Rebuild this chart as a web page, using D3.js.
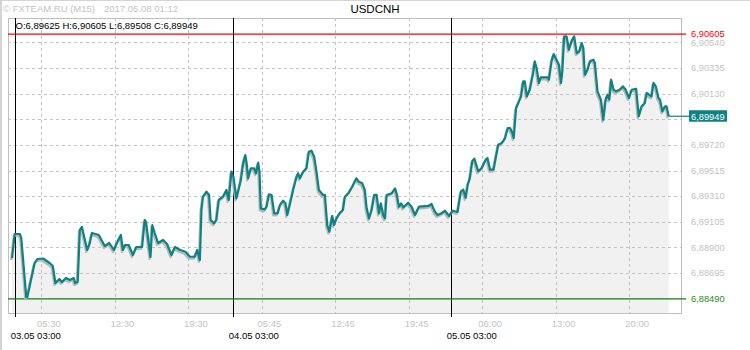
<!DOCTYPE html>
<html lang="en">
<head>
  <meta charset="utf-8">
  <title>USDCNH M15</title>
  <script src="https://d3js.org/d3.v7.min.js"></script>
  <style>
    body { margin: 0; background: #fff; }
    svg { display: block; font-family: "Liberation Sans", Arial, sans-serif; }
  </style>
</head>
<body>
  <script>
    // Chart data
    const symbol = "USDCNH";
    const ohlc = { O: "6,89625", H: "6,90605", L: "6,89508", C: "6,89949" };
    const highPrice = 6.90605;
    const lowPrice = 6.88490;
    const lastPrice = 6.89949;

    // bar index (M15 bars, 0 = 03.05 03:00) and close price at line vertices
    const bars = [-1, 0, 2, 2.5, 4.4, 4.8, 7.6, 8.6, 10.8, 13.3, 14.5, 15.5, 17, 18, 19.5, 21, 22.5, 23, 24, 24.8,
      25.6, 27.6, 28.5, 29.4, 32, 34.3, 36, 37.8, 38.7, 40.4, 41.2, 42, 43.4, 45, 46.3, 48.5, 49.5, 50, 51.7, 52.4,
      53.3, 54.6, 56.5, 58, 59.7, 61, 63, 65, 66.7, 68.5, 69.5, 70.5, 71.1, 71.7, 73, 74, 74.6, 75.9, 76.8, 77.7,
      79.3, 80.6, 81.5, 82.5, 83.3, 84.4, 85.2, 86.1, 87, 87.8, 88.4, 88.9, 89.9, 91.2, 91.9, 92.7, 93.2, 93.7, 95.2, 95.9,
      96.8, 97.8, 98.8, 100.1, 101, 102.2, 103.1, 103.8, 104.7, 106, 107.3, 107.9, 108.6, 109.8, 111.1, 112, 113, 114, 114.9, 115.8,
      117.4, 118.1, 119, 119.8, 120.9, 121.6, 122.5, 123.8, 125, 125.7, 127, 128.5, 130.1, 131, 132.3, 133.3, 134, 134.9, 135.9, 136.9,
      137.8, 138.7, 139.4, 140.3, 141, 141.6, 143.5, 144.8, 145.4, 146.3, 147.1, 148, 149.8, 151.1, 152.4, 153.9, 157.5, 158.7, 160, 161,
      162.5, 163.8, 164.8, 165.4, 166.7, 168.6, 169.9, 170.8, 171.7, 172.5, 173.3, 174.2, 175, 176.5, 177.8, 179.3, 180, 181, 182.3, 183.5,
      184.1, 185.4, 186.7, 187.7, 188.6, 189.5, 190, 190.9, 191.7, 192.8, 193.6, 194.2, 195, 196.1, 197.4, 198, 198.7, 199.6, 200.3, 202.9,
      203.4, 204.4, 205.2, 206.3, 207.2, 208, 208.5, 209.2, 210.1, 211, 212, 213, 214, 215, 215.9, 216.5, 217.1, 218.1, 219, 220.3,
      220.9, 221.9, 223.2, 224.1, 225, 225.7, 226.4, 227.1, 228, 229, 230.3, 231.6, 232.6, 233.9, 234.9, 236.6, 237.6, 238.7, 239.9, 240.6,
      241.5, 242.5, 243.2, 244.1, 245.1, 245.7, 246.6, 247.6, 248.2, 249];
    const closes = [6.88816, 6.89008, 6.89008, 6.88976, 6.88504, 6.88504, 6.88776, 6.88808, 6.88812, 6.88776, 6.88752, 6.88616, 6.88648, 6.88624, 6.88656, 6.88640, 6.88656, 6.88616, 6.88624, 6.89040,
      6.89064, 6.88880, 6.88928, 6.89016, 6.89000, 6.88912, 6.88936, 6.88880, 6.88928, 6.89000, 6.88880, 6.88920, 6.88920, 6.88840, 6.88904, 6.88904, 6.89120, 6.89104, 6.88824, 6.89080,
      6.89016, 6.88936, 6.88960, 6.88928, 6.88840, 6.88904, 6.88880, 6.88866, 6.88826, 6.88826, 6.88880, 6.88800, 6.89200, 6.89306, 6.89346, 6.89320, 6.89120, 6.89093, 6.89120, 6.89280,
      6.89306, 6.89360, 6.89280, 6.89506, 6.89463, 6.89293, 6.89360, 6.89439, 6.89573, 6.89639, 6.89559, 6.89453, 6.89533, 6.89533, 6.89493, 6.89578, 6.89506, 6.89213, 6.89205, 6.89226,
      6.89325, 6.89320, 6.89173, 6.89173, 6.89240, 6.89274, 6.89253, 6.89160, 6.89240, 6.89360, 6.89466, 6.89493, 6.89453, 6.89506, 6.89533, 6.89666, 6.89674, 6.89626, 6.89506, 6.89360,
      6.89320, 6.89320, 6.89080, 6.89026, 6.89152, 6.89080, 6.89133, 6.89178, 6.89200, 6.89306, 6.89333, 6.89386, 6.89453, 6.89426, 6.89413, 6.89360, 6.89213, 6.89133, 6.89200, 6.89320,
      6.89320, 6.89173, 6.89253, 6.89160, 6.89133, 6.89320, 6.89333, 6.89373, 6.89333, 6.89226, 6.89253, 6.89221, 6.89258, 6.89226, 6.89160, 6.89226, 6.89232, 6.89248, 6.89186, 6.89160,
      6.89173, 6.89194, 6.89168, 6.89152, 6.89194, 6.89184, 6.89349, 6.89362, 6.89296, 6.89402, 6.89455, 6.89589, 6.89610, 6.89509, 6.89535, 6.89602, 6.89615, 6.89522, 6.89522, 6.89655,
      6.89722, 6.89735, 6.89775, 6.89855, 6.89855, 6.89815, 6.89775, 6.90015, 6.90055, 6.90108, 6.90228, 6.90228, 6.90108, 6.90161, 6.90295, 6.90388, 6.90335, 6.90215, 6.90260, 6.90260,
      6.90241, 6.90388, 6.90446, 6.90401, 6.90361, 6.90215, 6.90308, 6.90588, 6.90588, 6.90481, 6.90548, 6.90588, 6.90454, 6.90468, 6.90534, 6.90494, 6.90281, 6.90321, 6.90388, 6.90401,
      6.90374, 6.90148, 6.90081, 6.89921, 6.90081, 6.90121, 6.90081, 6.90241, 6.90161, 6.90148, 6.90161, 6.90188, 6.90161, 6.90095, 6.90161, 6.90169, 6.89949, 6.90028, 6.90055, 6.90135,
      6.90121, 6.90108, 6.90215, 6.90188, 6.90095, 6.90081, 6.89988, 6.90028, 6.90028, 6.89949];

    // axis ticks
    const priceTicks = [6.88695, 6.88900, 6.89105, 6.89310, 6.89515, 6.89720, 6.89925, 6.90130, 6.90335, 6.90540];
    const timeTickBars = [10, 38, 66, 94, 122, 150, 178, 206, 234];
    const timeTickLabels = ["05:30", "12:30", "19:30", "05:45", "12:45", "19:45", "06:00", "13:00", "20:00"];
    const dayBars = [0, 83, 166];
    const dayLabels = ["03.05 03:00", "04.05 03:00", "05.05 03:00"];

    const W = 750, H = 350;
    const frame = { left: 8, right: 681, top: 18, bottom: 313 };
    const teal = "#0d8282";
    const fmt = v => v.toFixed(5).replace(".", ",");

    const svg = d3.select("body").append("svg")
      .attr("width", W)
      .attr("height", H);

    // scales: bars equally spaced, price linear
    const x = d3.scaleLinear().domain([0, 249]).range([14.7, 668.7]);
    const y = d3.scaleLinear().domain([6.88490, 6.90540]).range([298.8, 42.3]);

    // outer border (left and top)
    svg.append("line").attr("x1", 1).attr("x2", 1).attr("y1", 0).attr("y2", H)
      .attr("stroke", "#d4d4d4").attr("stroke-width", 2);
    svg.append("line").attr("x1", 0).attr("x2", W).attr("y1", 0.5).attr("y2", 0.5)
      .attr("stroke", "#d4d4d4");

    // header
    svg.append("text").attr("x", 3).attr("y", 12)
      .attr("font-size", 9.5).attr("fill", "#c4c4c4")
      .text("\u00a9 FXTEAM.RU (M15)");
    svg.append("text").attr("x", 104).attr("y", 12)
      .attr("font-size", 9.5).attr("fill", "#c4c4c4")
      .text("2017.05.08 01:12");
    svg.append("text").attr("x", 375).attr("y", 13)
      .attr("text-anchor", "middle")
      .attr("font-size", 11.5).attr("fill", "#000")
      .text(symbol);

    // area under the line
    const area = d3.area()
      .x((d, i) => x(bars[i]))
      .y0(frame.bottom)
      .y1(d => y(d));
    svg.append("path")
      .datum(closes)
      .attr("d", area)
      .attr("fill", "#f1f1f1");

    // grid
    const grid = svg.append("g")
      .attr("stroke", "#c3c3c3")
      .attr("stroke-dasharray", "3,3")
      .attr("shape-rendering", "crispEdges");
    grid.selectAll(".hgrid")
      .data(priceTicks)
      .enter()
      .append("line")
      .attr("x1", frame.left).attr("x2", frame.right)
      .attr("y1", d => Math.round(y(d)) + 0.5)
      .attr("y2", d => Math.round(y(d)) + 0.5);
    grid.selectAll(".vgrid")
      .data(timeTickBars)
      .enter()
      .append("line")
      .attr("x1", d => Math.round(x(d)) + 0.5)
      .attr("x2", d => Math.round(x(d)) + 0.5)
      .attr("y1", frame.top).attr("y2", frame.bottom);

    // frame
    svg.append("rect")
      .attr("x", frame.left + 0.5).attr("y", frame.top + 0.5)
      .attr("width", frame.right - frame.left).attr("height", frame.bottom - frame.top)
      .attr("fill", "none").attr("stroke", "#bfbfbf")
      .attr("shape-rendering", "crispEdges");

    // day separators
    svg.selectAll(".daysep")
      .data(dayBars)
      .enter()
      .append("line")
      .attr("x1", d => Math.round(x(d)) + 0.5)
      .attr("x2", d => Math.round(x(d)) + 0.5)
      .attr("y1", frame.top).attr("y2", frame.bottom + 4)
      .attr("stroke", "#000")
      .attr("shape-rendering", "crispEdges");

    // high / low lines
    svg.append("line")
      .attr("x1", frame.left).attr("x2", 686)
      .attr("y1", y(highPrice)).attr("y2", y(highPrice))
      .attr("stroke", "#ff0000").attr("stroke-width", 1.2);
    svg.append("line")
      .attr("x1", frame.left).attr("x2", 686)
      .attr("y1", y(lowPrice)).attr("y2", y(lowPrice))
      .attr("stroke", "#127a12").attr("stroke-width", 1.2);

    // price line with shadow
    const line = d3.line()
      .x((d, i) => x(bars[i]))
      .y(d => y(d));
    svg.append("path")
      .datum(closes)
      .attr("d", line)
      .attr("transform", "translate(-1,2)")
      .attr("fill", "none")
      .attr("stroke", "#b8b8b8")
      .attr("stroke-width", 2.2)
      .attr("stroke-linejoin", "round");
    svg.append("path")
      .datum(closes)
      .attr("d", line)
      .attr("fill", "none")
      .attr("stroke", teal)
      .attr("stroke-width", 2.2)
      .attr("stroke-linejoin", "round");

    // current price line
    svg.append("line")
      .attr("x1", x(249)).attr("x2", 689)
      .attr("y1", y(lastPrice)).attr("y2", y(lastPrice))
      .attr("stroke", teal).attr("stroke-width", 1.2);

    // OHLC text
    svg.append("text").attr("x", 15.5).attr("y", 28.5)
      .attr("font-size", 9.5).attr("fill", "#000")
      .text("O:" + ohlc.O + " H:" + ohlc.H + " L:" + ohlc.L + " C:" + ohlc.C);

    // price axis labels
    svg.selectAll(".plabel")
      .data(priceTicks.filter(d => Math.abs(y(d) - y(lastPrice)) > 8))
      .enter()
      .append("text")
      .attr("x", 691)
      .attr("y", d => y(d))
      .attr("dy", "0.35em")
      .attr("font-size", 9.3)
      .attr("fill", "#c4c4c4")
      .text(d => fmt(d));

    // high label (white box hides the tick label below)
    svg.append("rect").attr("x", 688).attr("y", y(highPrice) - 5.5)
      .attr("width", 40).attr("height", 10).attr("fill", "#fff");
    svg.append("text").attr("x", 691).attr("y", y(highPrice))
      .attr("dy", "0.35em").attr("font-size", 9.3).attr("fill", "#ff0000")
      .text(fmt(highPrice));

    // low label
    svg.append("text").attr("x", 691).attr("y", y(lowPrice))
      .attr("dy", "0.35em").attr("font-size", 9.3).attr("fill", "#1e8c1e")
      .text(fmt(lowPrice));

    // current price box
    svg.append("rect").attr("x", 689).attr("y", y(lastPrice) - 6)
      .attr("width", 38).attr("height", 11.5).attr("fill", teal);
    svg.append("text").attr("x", 691).attr("y", y(lastPrice))
      .attr("dy", "0.35em").attr("font-size", 9.3).attr("fill", "#fff")
      .text(fmt(lastPrice));

    // time labels
    svg.selectAll(".tlabel")
      .data(timeTickBars)
      .enter()
      .append("text")
      .attr("x", (d) => x(d) - 4)
      .attr("y", 327)
      .attr("font-size", 9.5)
      .attr("fill", "#c4c4c4")
      .text((d, i) => timeTickLabels[i]);

    svg.selectAll(".dlabel")
      .data(dayBars)
      .enter()
      .append("text")
      .attr("x", (d) => x(d) - 4)
      .attr("y", 338.5)
      .attr("font-size", 9.5)
      .attr("fill", "#000")
      .text((d, i) => dayLabels[i]);
  </script>
</body>
</html>
